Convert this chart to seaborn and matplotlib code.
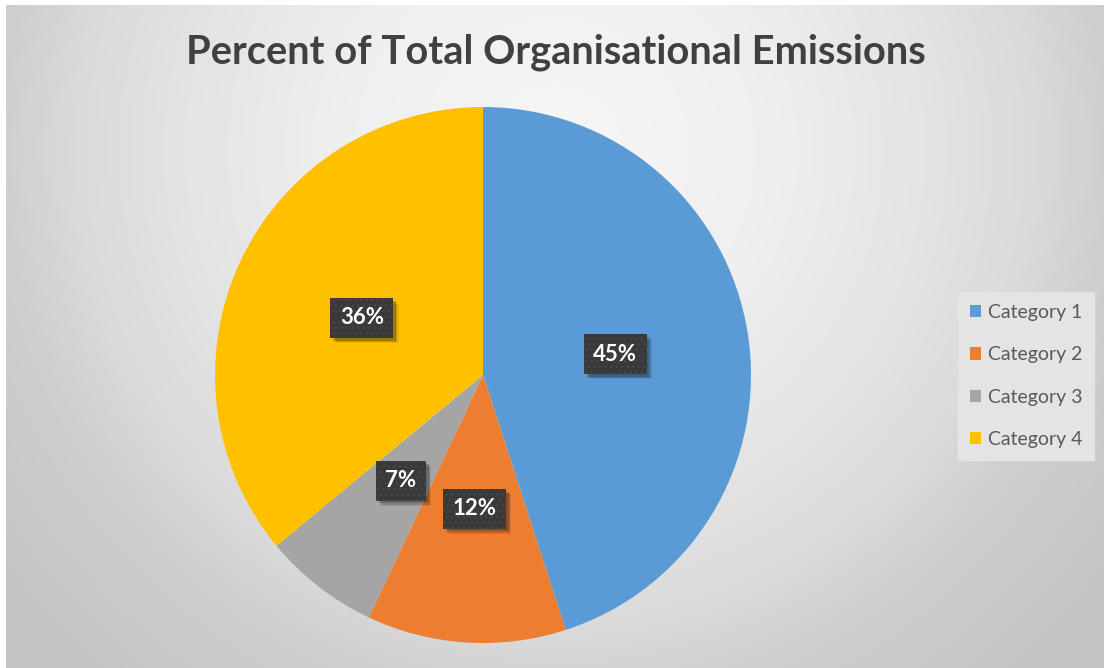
import numpy as np
import matplotlib
matplotlib.use("Agg")
import matplotlib.pyplot as plt
import matplotlib.patheffects as pe
from matplotlib.patches import Patch
import seaborn as sns

# Emission shares by category
categories = ["Category 1", "Category 2", "Category 3", "Category 4"]
shares = [45, 12, 7, 36]
colors = ["#5B9BD5", "#ED7D31", "#A5A5A5", "#FFC000"]
title = "Percent of Total Organisational Emissions"

sns.set_theme(style="white")
plt.rcParams["font.family"] = ["Lato", "DejaVu Sans"]
plt.rcParams["hatch.linewidth"] = 1.0

W, H = 1104, 668
fig = plt.figure(figsize=(W / 100, H / 100), dpi=100)
fig.patch.set_facecolor("white")

# Radial grey gradient behind the chart area
bg = fig.add_axes([0, 0, 1, 1])
yy, xx = np.mgrid[0:H, 0:W]
dist = np.hypot(xx - 555.0, yy - 150.0)
shade = np.interp(dist, [0, 200, 370, 480, 550, 700], [246, 240, 228, 218, 207, 196])
rgb = np.repeat(shade[..., None], 3, axis=2) / 255.0
rgb[:5, :, :] = 1.0
rgb[:, :6, :] = 1.0
bg.imshow(rgb, extent=(0, W, H, 0), aspect="auto", interpolation="bilinear")
bg.set_xlim(0, W)
bg.set_ylim(H, 0)
bg.axis("off")

# Pie
cx, cy, r = 483, 375, 268
ax = fig.add_axes([(cx - r) / W, (H - cy - r) / H, 2 * r / W, 2 * r / H])
wedges, _texts, autotexts = ax.pie(
    shares,
    colors=colors,
    startangle=90,
    counterclock=False,
    radius=1.0,
    autopct=lambda p: f"{p:.0f}%",
    pctdistance=0.5,
    wedgeprops=dict(linewidth=0),
    textprops=dict(color="white", fontsize=16, fontweight="bold"),
)
ax.set_xlim(-1, 1)
ax.set_ylim(-1, 1)
ax.set_aspect("equal")
ax.axis("off")

# Dark textured value tags, each sitting on a plain soft-shadowed backing
shadow = [pe.SimplePatchShadow(offset=(4, -4), shadow_rgbFace="black", alpha=0.08),
          pe.SimplePatchShadow(offset=(3, -3), shadow_rgbFace="black", alpha=0.14),
          pe.SimplePatchShadow(offset=(2, -2), shadow_rgbFace="black", alpha=0.2),
          pe.Normal()]
for t in autotexts:
    x, y = t.get_position()
    back = ax.text(x, y, t.get_text(), ha="center", va="center", fontsize=16,
                   fontweight="bold", color=(1, 1, 1, 0), zorder=t.get_zorder() - 0.1,
                   bbox=dict(boxstyle="square,pad=0.42", facecolor="#393939",
                             edgecolor="none", linewidth=0))
    back.get_bbox_patch().set_path_effects(shadow)
    t.set_bbox(dict(boxstyle="square,pad=0.42", facecolor="#393939",
                    edgecolor="#474747", linewidth=0, hatch="..."))

fig.text(556 / W, 1 - 52 / H, title, ha="center", va="center",
         fontsize=28.7, fontweight="bold", color="#404040")

handles = [Patch(facecolor=c, edgecolor="none") for c in colors]
leg = fig.legend(handles, categories, loc="center left",
                 bbox_to_anchor=(958 / W, 1 - 376 / H),
                 frameon=True, fancybox=False, framealpha=1.0,
                 facecolor="#e4e4e4", edgecolor="#e4e4e4",
                 fontsize=14, handlelength=0.6, handleheight=0.6,
                 handletextpad=0.35, labelspacing=1.3, borderpad=0.6,
                 borderaxespad=0)
for txt in leg.get_texts():
    txt.set_color("#595959")

fig.savefig("out.png", dpi=100)
